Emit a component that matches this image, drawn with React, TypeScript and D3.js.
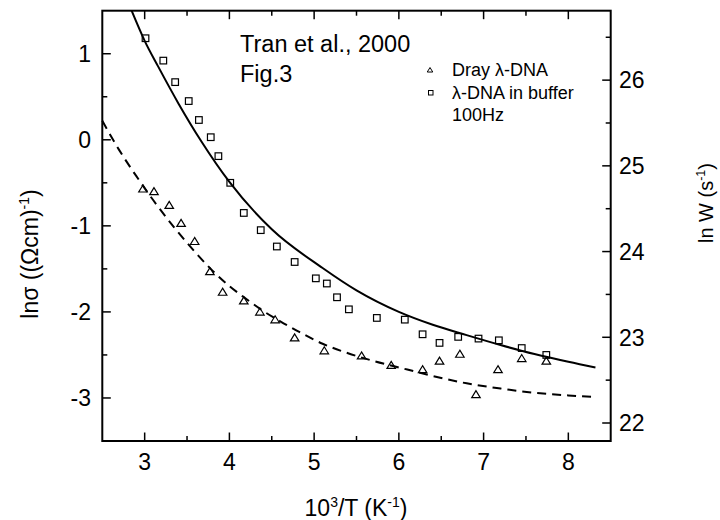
import React from 'react';
import * as d3 from 'd3';

// Data
const bufferX = [3.01, 3.22, 3.36, 3.52, 3.64, 3.78, 3.87, 4.01, 4.17, 4.37, 4.56, 4.77, 5.02, 5.15, 5.27, 5.41, 5.74, 6.07, 6.28, 6.48, 6.70, 6.94, 7.18, 7.45, 7.74];
const bufferY = [1.18, 0.92, 0.67, 0.45, 0.23, 0.03, -0.19, -0.50, -0.85, -1.05, -1.24, -1.42, -1.61, -1.67, -1.83, -1.97, -2.07, -2.09, -2.26, -2.36, -2.29, -2.31, -2.33, -2.42, -2.50];

const dryX = [2.98, 3.11, 3.29, 3.43, 3.59, 3.77, 3.92, 4.17, 4.36, 4.54, 4.77, 5.12, 5.56, 5.91, 6.28, 6.48, 6.72, 6.91, 7.17, 7.45, 7.74];
const dryY = [-0.57, -0.60, -0.76, -0.97, -1.18, -1.53, -1.77, -1.87, -2.00, -2.09, -2.30, -2.45, -2.51, -2.62, -2.67, -2.57, -2.49, -2.96, -2.67, -2.54, -2.57];

const fitBufferX = [2.846, 3.0, 3.16, 3.4, 3.67, 4.0, 4.5, 5.1, 5.5, 6.0, 6.4, 6.8, 7.2, 7.6, 8.0, 8.32];
const fitBufferY = [1.50, 1.15, 0.85, 0.42, -0.02, -0.49, -1.04, -1.49, -1.75, -2.00, -2.15, -2.27, -2.385, -2.49, -2.58, -2.645];

const fitDryX = [2.5, 2.7, 2.9, 3.1, 3.35, 3.6, 3.8, 4.0, 4.2, 4.4, 4.6, 4.8, 5.1, 5.4, 5.7, 6.1, 6.4, 6.8, 7.2, 7.6, 8.0, 8.32];
const fitDryY = [0.22, -0.12, -0.42, -0.70, -1.02, -1.31, -1.52, -1.70, -1.85, -1.99, -2.11, -2.22, -2.37, -2.48, -2.57, -2.67, -2.745, -2.83, -2.89, -2.94, -2.97, -2.99];

const xDomain = [2.5, 8.5];
const yDomain = [-3.5, 1.5];
const yRightDomain = [21.79, 26.81];

const legendLabels = ['Dray λ-DNA', 'λ-DNA in buffer', '100Hz'];
const noteLines = ['Tran et al., 2000', 'Fig.3'];

const FONT = "'Liberation Sans', Arial, Helvetica, sans-serif";

const L = 102.3, R = 610.7, T = 10.7, B = 441;

export default function App() {
  const x = d3.scaleLinear().domain(xDomain).range([L, R]);
  const y = d3.scaleLinear().domain(yDomain).range([B, T]);
  const yR = d3.scaleLinear().domain(yRightDomain).range([B, T]);

  const xMaj = x.ticks(6);
  const xMin = x.ticks(12).filter(v => v > xDomain[0] && v < xDomain[1]);
  const yMaj = y.ticks(5);
  const yMin = y.ticks(10).filter(v => v > yDomain[0] && v < yDomain[1]);
  const yRMaj = yR.ticks(5);
  const yRMin = yR.ticks(10).filter(v => v > yRightDomain[0] && v < yRightDomain[1]);

  const line = d3.line<[number, number]>()
    .x(d => x(d[0]))
    .y(d => y(d[1]))
    .curve(d3.curveMonotoneX);

  const solidPath = line(fitBufferX.map((v, i) => [v, fitBufferY[i]] as [number, number])) || '';
  const dashPath = line(fitDryX.map((v, i) => [v, fitDryY[i]] as [number, number])) || '';

  const tri = (cx: number, cy: number, h: number, w: number) =>
    `M${cx},${cy - h * 0.55} L${cx - w / 2},${cy + h * 0.45} L${cx + w / 2},${cy + h * 0.45} Z`;

  const MAJ = 8.5, MIN = 5;
  const fs = 23;

  return (
    <svg width={720} height={520} style={{ position: 'absolute', left: 0, top: 0, background: '#fff' }} fontFamily={FONT}>
      <rect x={0} y={0} width={720} height={520} fill="#fff" />
      {/* ticks */}
      <g stroke="#000" strokeWidth={1.5}>
        {xMaj.map(v => (
          <g key={'xM' + v}>
            <line x1={x(v)} x2={x(v)} y1={B} y2={B - MAJ} />
            <line x1={x(v)} x2={x(v)} y1={T} y2={T + MAJ} />
          </g>
        ))}
        {xMin.filter(v => !xMaj.includes(v)).map(v => (
          <g key={'xm' + v}>
            <line x1={x(v)} x2={x(v)} y1={B} y2={B - MIN} />
            <line x1={x(v)} x2={x(v)} y1={T} y2={T + MIN} />
          </g>
        ))}
        {yMaj.map(v => (
          <line key={'yM' + v} x1={L} x2={L + MAJ} y1={y(v)} y2={y(v)} />
        ))}
        {yMin.filter(v => !yMaj.includes(v)).map(v => (
          <line key={'ym' + v} x1={L} x2={L + MIN} y1={y(v)} y2={y(v)} />
        ))}
        {yRMaj.map(v => (
          <line key={'rM' + v} x1={R} x2={R - MAJ} y1={yR(v)} y2={yR(v)} />
        ))}
        {yRMin.filter(v => !yRMaj.includes(v)).map(v => (
          <line key={'rm' + v} x1={R} x2={R - MIN} y1={yR(v)} y2={yR(v)} />
        ))}
      </g>
      <rect x={L} y={T} width={R - L} height={B - T} fill="none" stroke="#000" strokeWidth={2} />

      {/* tick labels */}
      <g fontSize={fs} fill="#000">
        {xMaj.map(v => (
          <text key={'xl' + v} x={x(v)} y={470} textAnchor="middle">{String(v)}</text>
        ))}
        {yMaj.map(v => (
          <text key={'yl' + v} x={91} y={y(v)} dy="0.36em" textAnchor="end">{String(v)}</text>
        ))}
        {yRMaj.map(v => (
          <text key={'rl' + v} x={619} y={yR(v)} dy="0.36em" textAnchor="start">{String(v)}</text>
        ))}
      </g>

      {/* axis titles */}
      <text x={356} y={516} fontSize={fs} textAnchor="middle">
        10<tspan fontSize={14} dy={-9}>3</tspan><tspan dy={9}>/T (K</tspan><tspan fontSize={14} dy={-9}>-1</tspan><tspan dy={9}>)</tspan>
      </text>
      <text transform={`translate(38,254) rotate(-90)`} fontSize={fs} textAnchor="middle">
        lnσ ((Ωcm)<tspan fontSize={14} dy={-9}>-1</tspan><tspan dy={9}>)</tspan>
      </text>
      <text transform={`translate(713,203) rotate(-90)`} fontSize={20} textAnchor="middle">
        ln W (s<tspan fontSize={12.5} dy={-8}>-1</tspan><tspan dy={8}>)</tspan>
      </text>

      {/* fit lines */}
      <path d={solidPath} fill="none" stroke="#000" strokeWidth={2} />
      <path d={dashPath} fill="none" stroke="#000" strokeWidth={2} strokeDasharray="9,6" />

      {/* markers */}
      <g fill="none" stroke="#000" strokeWidth={1.2}>
        {bufferX.map((v, i) => (
          <rect key={'b' + i} x={x(v) - 3.3} y={y(bufferY[i]) - 3.3} width={6.6} height={6.6} />
        ))}
        {dryX.map((v, i) => (
          <path key={'d' + i} d={tri(x(v), y(dryY[i]), 7, 8.5)} />
        ))}
      </g>

      {/* note */}
      <g fontSize={23.5}>
        <text x={240} y={52}>{noteLines[0]}</text>
        <text x={240} y={82}>{noteLines[1]}</text>
      </g>

      {/* legend */}
      <g fill="none" stroke="#000" strokeWidth={1}>
        <path d={tri(430, 70, 4.5, 5.5)} />
        <rect x={428.5} y={90.5} width={4.5} height={4.5} />
      </g>
      <g fontSize={18}>
        <text x={452} y={76}>{legendLabels[0]}</text>
        <text x={452} y={98.5}>{legendLabels[1]}</text>
        <text x={452} y={121}>{legendLabels[2]}</text>
      </g>
    </svg>
  );
}
